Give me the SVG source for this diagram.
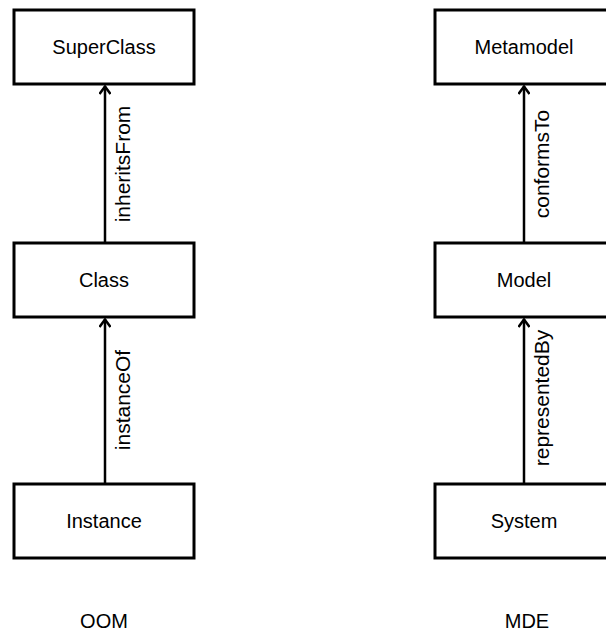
<svg xmlns="http://www.w3.org/2000/svg" width="606" height="637" viewBox="0 0 606 637">
  <style>
    .box { fill: #ffffff; stroke: #000000; stroke-width: 3; }
    .lbl { font-family: "Liberation Sans", Arial, sans-serif; font-size: 20px; fill: #000000; text-anchor: middle; }
    .elbl { font-family: "Liberation Sans", Arial, sans-serif; font-size: 21px; fill: #000000; text-anchor: middle; }
    .edge { stroke: #000000; stroke-width: 2.5; fill: none; marker-end: url(#arrow); }
  </style>
  <defs>
    <marker id="arrow" viewBox="0 0 12 12" refX="11" refY="6" markerWidth="12" markerHeight="12" markerUnits="userSpaceOnUse" orient="auto">
      <path d="M3,0.5 L10.5,6 L3,11.5" fill="none" stroke="#000000" stroke-width="2.5"/>
    </marker>
  </defs>
  <rect width="606" height="637" fill="#ffffff"/>

  <!-- connectors -->
  <g id="connectors">
    <line class="edge" x1="105" y1="242" x2="105" y2="86"/>
    <line class="edge" x1="105" y1="483" x2="105" y2="319"/>
    <line class="edge" x1="524" y1="242" x2="524" y2="86"/>
    <line class="edge" x1="524" y1="483" x2="524" y2="319"/>
    <text class="elbl" transform="translate(130,164) rotate(-90)">inheritsFrom</text>
    <text class="elbl" transform="translate(130,400) rotate(-90)">instanceOf</text>
    <text class="elbl" transform="translate(549,164) rotate(-90)">conformsTo</text>
    <text class="elbl" transform="translate(549,398) rotate(-90)">representedBy</text>
  </g>

  <!-- OOM column -->
  <g id="superclass">
    <rect class="box" x="14" y="10" width="180" height="74"/>
    <text class="lbl" x="104" y="54">SuperClass</text>
  </g>
  <g id="class">
    <rect class="box" x="14" y="243" width="180" height="74"/>
    <text class="lbl" x="104" y="287">Class</text>
  </g>
  <g id="instance">
    <rect class="box" x="14" y="484" width="180" height="74"/>
    <text class="lbl" x="104" y="528">Instance</text>
  </g>
  <text class="lbl" x="104" y="628">OOM</text>

  <!-- MDE column -->
  <g id="metamodel">
    <rect class="box" x="435" y="10" width="180" height="74"/>
    <text class="lbl" x="524" y="54">Metamodel</text>
  </g>
  <g id="model">
    <rect class="box" x="435" y="243" width="180" height="74"/>
    <text class="lbl" x="524" y="287">Model</text>
  </g>
  <g id="system">
    <rect class="box" x="435" y="484" width="180" height="74"/>
    <text class="lbl" x="524" y="528">System</text>
  </g>
  <text class="lbl" x="527" y="628">MDE</text>
</svg>
